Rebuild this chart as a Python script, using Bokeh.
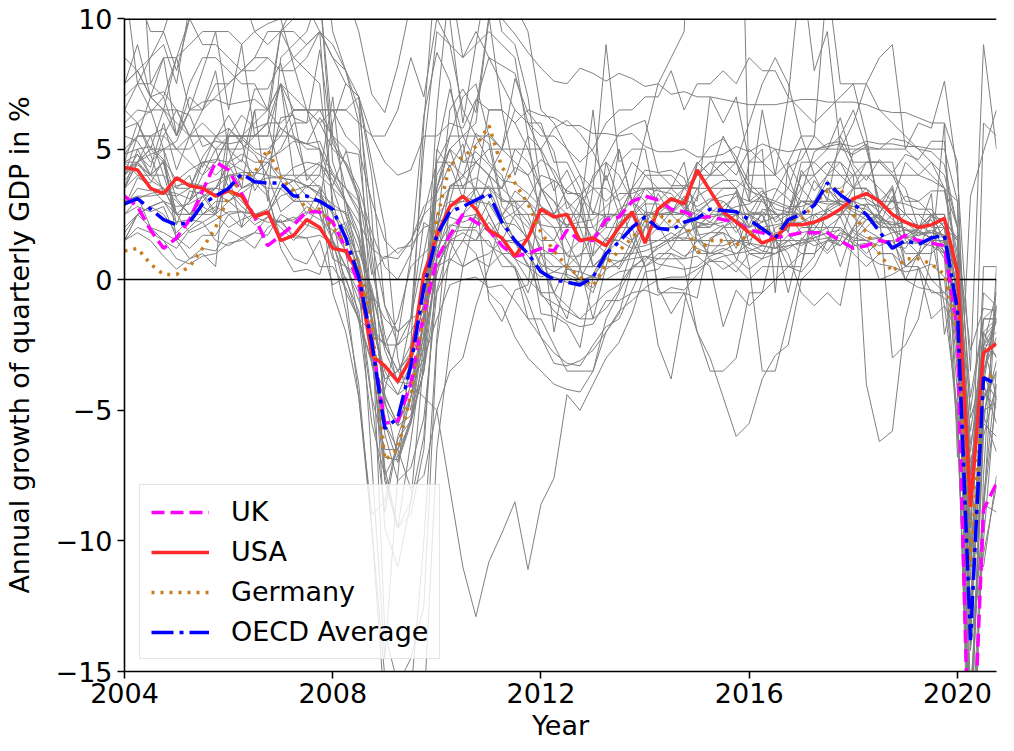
from bokeh.plotting import figure
from bokeh.models import Range1d, FixedTicker, Legend, LegendItem
from bokeh.embed import file_html
from bokeh.resources import INLINE

# ---------------- data: annual growth of quarterly GDP (%), 2004Q1 .. 2020Q4 ----------------
years = list(range(2004, 2021))
quarter_offsets = [0.0, 0.25, 0.5, 0.75]
time = [y + q for y in years for q in quarter_offsets]

uk = [3.2, 2.8, 1.9, 1.2, 1.6, 2.3, 3.4, 4.5, 4.2, 3.3, 2.4, 1.3, 1.7, 2.1, 2.6, 2.6,
      2.2, 1.2, -0.2, -2.3, -5.5, -5.4, -4.0, -1.3, 0.8, 1.7, 2.5, 2.2, 1.9, 1.3, 0.9, 1.0,
      1.2, 1.1, 1.9, 1.5, 1.5, 2.3, 2.4, 3.0, 3.2, 3.05, 2.7, 2.6, 2.4, 2.4, 2.3, 2.2,
      1.9, 1.8, 1.6, 1.7, 1.8, 1.8, 1.8, 1.5, 1.2, 1.3, 1.5, 1.4, 1.7, 1.5, 1.4, 1.3,
      -2.0, -21.0, -8.8, -7.8]
usa = [4.3, 4.2, 3.5, 3.3, 3.9, 3.6, 3.5, 3.2, 3.4, 3.2, 2.4, 2.6, 1.5, 1.7, 2.3, 2.0,
       1.2, 1.1, 0.2, -2.9, -3.3, -3.9, -3.0, 0.2, 1.7, 2.8, 3.2, 2.7, 1.9, 1.6, 0.9, 1.6,
       2.7, 2.4, 2.5, 1.5, 1.6, 1.3, 2.0, 2.6, 1.4, 2.7, 3.1, 2.9, 4.2, 3.4, 2.6, 2.2,
       1.8, 1.4, 1.6, 2.1, 2.1, 2.2, 2.4, 2.7, 3.1, 3.3, 3.0, 2.5, 2.2, 2.0, 2.1, 2.35,
       0.3, -8.7, -2.8, -2.45]
germany = [1.1, 1.2, 0.6, 0.2, 0.2, 0.5, 1.2, 2.0, 3.2, 3.9, 4.1, 5.0, 3.9, 3.4, 2.7, 2.7,
           2.0, 1.4, 0.5, -1.6, -6.9, -6.5, -4.4, -1.4, 2.3, 4.4, 4.7, 5.1, 5.9, 4.3, 3.7, 2.9,
           1.8, 1.1, 0.5, 0.1, -0.25, 0.6, 1.1, 1.6, 2.2, 2.5, 2.2, 2.3, 1.0, 1.5, 1.5, 1.3,
           1.8, 2.0, 1.7, 2.3, 2.3, 2.9, 3.4, 3.5, 2.5, 1.8, 1.0, 0.3, 0.8, 0.8, 0.6, 0.2,
           -2.1, -11.0, -3.8, -3.6]
oecd_average = [2.9, 3.1, 2.7, 2.3, 2.1, 2.2, 2.9, 3.2, 3.5, 4.05, 3.75, 3.7, 3.7, 3.2, 3.2, 3.0,
                2.7, 1.6, 0.1, -2.4, -5.7, -5.3, -3.3, -0.3, 1.7, 2.6, 2.8, 3.05, 3.3, 2.2, 1.5, 1.0,
                0.3, 0.0, -0.1, -0.2, 0.1, 1.0, 1.45, 2.0, 2.4, 1.97, 1.9, 2.2, 2.35, 2.7, 2.65, 2.6,
                2.3, 1.95, 1.6, 2.3, 2.5, 2.85, 3.7, 3.25, 2.9, 2.5, 1.85, 1.2, 1.5, 1.35, 1.6, 1.7,
                -1.15, -13.8, -3.75, -4.0]

australia = [4.5, 4.0, 3.5, 3.0, 2.8, 2.9, 3.2, 3.3, 3.0, 2.6, 2.5, 2.7, 3.8, 4.3, 4.5, 4.4,
             4.0, 3.0, 2.2, 1.2, 0.8, 1.2, 1.3, 2.0, 2.2, 2.4, 2.2, 2.4, 1.8, 2.3, 2.6, 3.1,
             4.0, 3.8, 3.4, 3.2, 2.6, 2.4, 2.5, 2.4, 2.9, 2.9, 2.6, 2.5, 2.2, 2.0, 2.6, 2.8,
             2.9, 3.2, 2.2, 2.5, 1.8, 1.9, 2.7, 2.4, 3.1, 3.1, 2.8, 2.3, 1.9, 1.7, 1.8, 2.2,
             1.6, -6.3, -3.7, -1.0]
austria = [1.5, 2.5, 2.8, 3.0, 2.2, 2.3, 2.2, 2.5, 3.0, 3.3, 3.7, 3.9, 3.9, 3.8, 3.6, 3.3,
           2.9, 2.5, 1.2, -0.5, -4.8, -5.6, -4.0, -2.2, 0.2, 2.0, 2.5, 3.0, 3.6, 3.1, 2.8, 2.2,
           1.2, 0.9, 0.4, 0.3, 0.1, 0.0, 0.3, 0.4, 0.9, 0.6, 0.5, 0.4, 0.5, 0.9, 1.1, 1.4,
           1.7, 2.0, 2.1, 2.2, 2.2, 2.5, 2.7, 3.0, 3.0, 2.8, 2.3, 1.9, 1.6, 1.4, 1.3, 1.0,
           -2.8, -13.5, -4.0, -5.5]
belgium = [2.8, 3.5, 3.4, 3.5, 2.5, 1.8, 2.0, 2.3, 2.6, 2.6, 2.5, 2.6, 3.2, 3.4, 3.6, 3.2,
           2.6, 1.9, 0.8, -1.4, -3.9, -4.4, -3.2, -1.3, 1.4, 2.8, 3.0, 2.9, 3.3, 2.3, 1.5, 0.9,
           0.3, 0.1, -0.1, -0.1, -0.3, 0.4, 0.7, 1.0, 1.1, 1.3, 1.6, 1.6, 1.5, 1.3, 1.3, 1.5,
           1.4, 1.3, 1.2, 1.5, 1.5, 1.6, 1.8, 1.9, 1.6, 1.5, 1.6, 1.8, 1.9, 1.9, 1.6, 1.4,
           -1.9, -13.9, -4.3, -4.9]
canada = [2.5, 3.1, 3.3, 3.4, 3.3, 3.1, 3.4, 3.5, 3.4, 2.8, 2.4, 2.2, 2.2, 2.4, 2.1, 1.9,
          1.4, 1.0, 1.1, -0.3, -2.7, -3.9, -4.0, -1.5, 1.9, 3.6, 3.6, 3.9, 3.5, 2.4, 3.4, 3.0,
          2.1, 2.0, 0.9, 0.9, 1.7, 2.1, 2.7, 3.0, 2.4, 2.7, 3.1, 2.8, 1.9, 0.7, 0.7, 0.3,
          1.0, 0.8, 1.6, 2.0, 2.5, 3.8, 3.1, 2.9, 2.7, 2.5, 2.1, 1.9, 1.6, 1.7, 1.9, 1.7,
          -0.4, -12.7, -5.2, -3.1]
chile = [4.8, 5.5, 7.0, 7.2, 6.5, 6.3, 5.1, 5.3, 5.2, 5.3, 3.4, 4.2, 6.2, 6.3, 3.8, 4.4,
         3.6, 4.9, 4.8, 0.5, -2.1, -4.0, -1.5, 2.2, 1.8, 6.5, 7.3, 6.4, 10.1, 6.5, 4.0, 5.5,
         5.0, 5.8, 6.1, 5.6, 4.9, 3.8, 5.0, 3.0, 2.6, 2.1, 1.2, 2.1, 2.7, 2.4, 2.5, 1.8,
         2.5, 1.4, 1.6, 0.5, 0.3, 0.9, 2.8, 3.1, 4.9, 5.2, 2.8, 3.6, 1.6, 1.9, 3.3, -2.1,
         0.2, -14.2, -9.1, 0.0]
colombia = [4.0, 4.8, 4.3, 6.0, 4.2, 5.5, 4.3, 5.5, 5.8, 5.3, 7.3, 7.3, 8.3, 6.2, 6.0, 8.8,
            5.2, 4.4, 3.3, 0.2, 0.9, 0.8, 1.5, 2.8, 3.3, 4.4, 3.1, 5.2, 5.6, 5.0, 7.7, 6.4,
            5.8, 4.9, 2.7, 3.2, 3.8, 4.7, 5.6, 5.9, 6.1, 4.1, 4.2, 3.9, 2.6, 3.0, 3.2, 3.3,
            2.6, 2.5, 1.2, 1.7, 1.3, 1.6, 1.8, 1.3, 2.0, 2.9, 2.8, 2.7, 3.2, 3.0, 3.4, 3.4,
            0.7, -15.8, -8.4, -3.5]
czechia = [4.2, 4.5, 4.8, 5.0, 5.3, 6.5, 6.8, 6.9, 6.7, 6.8, 6.9, 6.5, 5.8, 5.4, 5.2, 5.3,
           4.1, 3.5, 2.7, -0.8, -4.4, -5.6, -5.2, -3.1, 1.0, 2.5, 3.2, 3.0, 2.9, 2.1, 1.4, 0.6,
           -0.6, -0.9, -1.2, -1.5, -1.5, -1.1, -0.4, 1.2, 2.6, 2.5, 2.6, 2.5, 4.4, 5.1, 5.4, 4.7,
           3.7, 3.2, 1.8, 1.9, 3.3, 4.9, 5.2, 5.3, 4.2, 3.0, 2.6, 3.0, 2.9, 2.7, 2.7, 2.0,
           -1.8, -10.9, -5.0, -4.7]
denmark = [1.8, 2.5, 2.8, 2.5, 1.8, 2.3, 3.2, 3.5, 4.4, 3.5, 3.7, 3.2, 1.6, 0.8, 0.6, 1.5,
           -0.2, 0.1, -1.6, -3.2, -4.6, -6.8, -5.3, -3.5, -0.4, 1.5, 2.4, 2.5, 2.0, 1.3, 0.8, 0.5,
           0.1, 0.3, 0.6, 0.0, -0.5, 0.9, 0.4, 1.2, 1.3, 1.5, 1.8, 1.5, 2.2, 2.1, 2.2, 2.5,
           2.5, 3.3, 3.5, 3.1, 2.5, 1.7, 1.1, 1.8, 1.6, 2.3, 2.4, 2.1, 2.2, 1.8, 2.4, 2.3,
           -0.5, -7.8, -2.8, -1.6]
estonia = [6.0, 6.5, 6.4, 7.0, 8.5, 10.0, 10.5, 11.0, 10.5, 11.0, 9.5, 9.8, 10.0, 8.2, 6.5, 5.0,
           1.0, -1.2, -4.0, -9.5, -15.2, -16.8, -15.9, -10.0, -2.2, 3.0, 4.8, 6.8, 8.5, 8.2, 7.9, 6.0,
           4.9, 3.4, 4.2, 3.0, 0.5, 1.0, 1.8, 1.5, 2.0, 3.3, 2.5, 3.2, 1.7, 1.8, 2.1, 1.2,
           2.5, 2.2, 3.3, 4.3, 4.6, 5.5, 5.0, 6.2, 4.4, 3.8, 4.6, 4.1, 4.8, 4.6, 5.3, 5.3,
           -0.5, -6.6, -2.2, -1.6]
finland = [2.8, 3.9, 3.7, 4.6, 3.1, 2.5, 3.2, 2.5, 4.2, 4.6, 4.0, 4.8, 5.8, 5.4, 5.2, 5.0,
           3.5, 2.0, 0.3, -2.8, -7.7, -9.5, -9.0, -6.5, 0.8, 3.6, 3.9, 5.6, 5.2, 2.8, 2.3, 1.5,
           -0.5, -1.2, -1.6, -1.8, -1.7, -0.8, -0.8, -0.5, -0.4, -0.6, -0.3, -0.4, 0.2, 0.8, 0.4, 0.7,
           2.1, 3.1, 2.9, 2.7, 3.5, 2.9, 3.5, 2.8, 1.8, 1.5, 1.3, 1.5, 1.4, 1.4, 1.5, 1.1,
           -1.1, -5.8, -2.5, -1.6]
france = [2.5, 2.8, 2.6, 2.8, 1.6, 1.2, 1.7, 1.7, 2.5, 2.6, 2.1, 2.4, 2.2, 2.3, 2.6, 2.3,
          1.9, 1.1, 0.4, -1.6, -3.8, -3.5, -2.9, -0.9, 1.2, 2.1, 2.0, 2.0, 3.0, 2.2, 2.1, 1.6,
          0.6, 0.3, 0.2, 0.0, 0.1, 0.8, 0.7, 0.8, 0.9, 0.8, 1.2, 0.9, 1.2, 1.0, 1.2, 1.0,
          1.4, 1.1, 1.0, 1.2, 1.5, 2.2, 2.6, 2.9, 2.4, 1.9, 1.6, 1.3, 1.4, 1.8, 1.6, 0.8,
          -5.5, -18.4, -3.7, -4.6]
greece = [5.5, 5.3, 4.5, 5.0, 1.5, 0.8, 1.0, 0.5, 5.5, 6.3, 5.8, 6.0, 4.0, 3.5, 2.5, 3.5,
          1.5, 0.5, -0.8, -1.8, -2.5, -3.5, -4.0, -4.5, -5.0, -8.0, -11.0, -12.9, -10.8, -9.7, -8.5, -11.1,
          -8.6, -7.6, -4.4, -5.0, -4.0, -3.0, -2.4, -1.3, 0.3, 0.4, 1.0, 0.8, 0.9, 0.5, -1.8, -0.4,
          -1.0, -0.5, 1.6, -0.5, 1.6, 1.3, 1.5, 1.3, 1.9, 1.6, 1.6, 1.3, 1.2, 2.0, 2.3, 1.0,
          -0.7, -14.0, -10.5, -7.9]
hungary = [4.8, 5.0, 5.1, 4.6, 3.8, 4.2, 4.5, 4.6, 4.5, 4.2, 3.9, 3.4, 1.2, 0.3, 0.4, 0.2,
           1.8, 2.2, 0.7, -2.5, -5.9, -7.7, -7.2, -5.3, -0.5, 0.7, 1.5, 1.5, 2.2, 1.5, 1.4, 1.6,
           -1.3, -1.4, -1.7, -2.6, 0.1, 1.0, 2.0, 3.5, 4.2, 4.1, 3.6, 3.6, 3.5, 2.7, 2.5, 3.4,
           1.3, 2.7, 2.6, 1.8, 4.2, 3.4, 4.0, 5.0, 4.8, 5.1, 5.0, 5.4, 5.3, 5.0, 4.9, 4.4,
           2.0, -13.3, -4.6, -3.6]
iceland = [7.5, 9.0, 7.0, 8.5, 5.5, 7.0, 6.5, 8.0, 5.0, 3.5, 6.5, 3.0, 8.5, 9.0, 9.5, 11.0,
           4.5, 3.0, 0.5, -2.5, -5.5, -6.5, -8.0, -7.5, -5.0, -3.5, -3.0, -1.0, 0.5, 2.5, 3.0, 2.5,
           1.0, 0.5, 0.5, 2.5, 6.5, 2.0, 5.0, 3.0, 1.5, 2.0, 2.0, 2.5, 4.5, 4.0, 5.5, 4.5,
           6.0, 7.5, 8.5, 7.5, 5.5, 4.0, 3.0, 5.5, 6.5, 5.0, 3.0, 3.5, 1.5, 1.0, 2.5, 1.5,
           -1.5, -10.0, -11.0, -7.5]
ireland = [3.5, 5.0, 4.0, 5.5, 6.5, 5.5, 6.0, 5.5, 5.0, 4.5, 6.5, 6.5, 7.5, 5.5, 4.0, 3.5,
           -0.5, -2.0, -4.5, -9.0, -8.5, -6.0, -4.5, -1.5, 0.5, 1.5, 1.5, 2.5, 2.0, 1.0, 0.5, -0.5,
           1.0, -0.5, 0.5, 0.5, -1.5, 0.5, 2.5, 3.5, 5.5, 7.5, 8.5, 9.5, 22.0, 25.0, 26.0, 24.0,
           3.0, 6.5, 4.0, 7.0, 12.0, 8.0, 9.5, 5.0, 6.0, 7.5, 8.5, 9.0, 5.0, 6.0, 5.8, 7.6,
           4.0, -3.5, 9.0, 5.0]
israel = [4.0, 5.5, 5.5, 5.8, 5.0, 4.5, 4.0, 5.0, 5.5, 5.5, 5.0, 5.0, 5.5, 6.5, 6.5, 6.0,
          5.0, 4.5, 3.5, 1.8, 0.5, 0.0, 1.0, 2.5, 4.5, 5.5, 5.5, 5.5, 5.5, 5.0, 4.5, 4.0,
          2.8, 2.5, 3.0, 2.5, 4.0, 4.5, 4.0, 3.0, 3.5, 3.0, 3.5, 4.5, 2.0, 2.5, 2.5, 2.0,
          4.5, 4.5, 4.0, 4.5, 3.5, 4.0, 4.5, 4.0, 3.5, 4.0, 3.5, 3.0, 4.5, 4.0, 3.8, 3.5,
          1.0, -7.5, -2.0, -1.5]
italy = [1.5, 1.8, 1.5, 0.9, 0.4, 0.8, 1.2, 1.1, 1.9, 1.6, 1.8, 2.4, 2.2, 1.7, 1.6, 0.5,
         0.5, -0.3, -1.5, -3.1, -6.8, -6.9, -5.4, -3.5, 0.8, 1.8, 1.9, 1.9, 1.3, 1.0, 0.4, -0.8,
         -2.2, -3.2, -3.3, -3.1, -2.7, -2.0, -1.2, -0.8, -0.3, 0.0, 0.1, 0.1, 0.4, 0.7, 0.9, 1.0,
         1.1, 1.3, 1.2, 1.3, 1.4, 1.5, 1.6, 1.7, 1.4, 0.9, 0.6, 0.5, 0.3, 0.4, 0.6, 0.1,
         -5.8, -18.1, -5.2, -6.6]
japan = [3.0, 3.2, 2.0, 1.5, 1.2, 1.9, 2.2, 1.5, 1.3, 1.6, 1.2, 2.0, 2.3, 1.6, 1.6, 1.7,
         1.4, 0.0, -1.2, -4.6, -8.9, -6.1, -5.4, -1.5, 5.0, 4.3, 5.2, 3.1, -0.8, -1.6, -0.4, -0.2,
         3.4, 3.8, 0.1, -0.1, 0.2, 1.2, 2.2, 2.5, 2.5, -0.3, -1.3, -0.5, -0.7, 1.6, 1.8, 0.8,
         0.4, 0.8, 1.0, 1.3, 1.4, 1.7, 2.0, 2.4, 1.3, 1.4, 0.0, 0.2, 0.5, 0.9, 1.7, -1.0,
         -2.0, -10.3, -5.6, -1.1]
korea = [5.8, 6.0, 4.8, 3.3, 3.2, 3.5, 4.7, 5.4, 6.3, 5.4, 4.9, 4.6, 4.9, 5.3, 5.2, 6.2,
         5.5, 4.4, 3.1, -3.3, -4.2, -2.2, 0.9, 6.3, 8.7, 7.6, 4.5, 4.9, 4.4, 3.8, 3.7, 3.3,
         2.8, 2.4, 2.1, 2.2, 2.3, 2.8, 3.3, 3.3, 3.5, 3.4, 3.3, 2.7, 2.5, 2.2, 2.8, 3.2,
         3.0, 3.4, 2.7, 2.6, 3.0, 2.8, 3.8, 2.9, 2.8, 2.9, 2.1, 3.2, 1.7, 2.0, 2.1, 2.3,
         1.5, -2.7, -1.1, -1.2]
latvia = [8.5, 8.0, 8.5, 9.0, 7.5, 10.5, 11.0, 11.5, 13.0, 11.5, 11.5, 12.0, 11.0, 11.0, 10.5, 9.5,
          2.5, -0.5, -4.5, -9.5, -16.5, -18.5, -18.0, -16.5, -6.5, -2.5, 0.5, 2.5, 4.0, 5.0, 6.5, 6.0,
          6.0, 4.5, 4.5, 3.5, 2.0, 1.5, 2.5, 2.5, 2.0, 2.5, 2.0, 2.0, 2.5, 3.0, 3.5, 3.5,
          2.0, 2.5, 1.5, 2.5, 4.0, 4.0, 4.5, 4.5, 3.5, 4.5, 4.5, 4.5, 2.5, 2.0, 2.5, 2.5,
          -0.5, -8.5, -2.5, -0.5]
lithuania = [6.5, 7.5, 7.5, 7.0, 5.5, 7.5, 8.5, 8.5, 8.0, 7.5, 7.5, 6.5, 9.5, 10.5, 11.5, 11.0,
             5.5, 3.5, 2.5, -1.5, -13.5, -15.5, -14.5, -12.5, -2.5, 1.0, 2.5, 3.5, 6.5, 6.5, 6.0, 5.0,
             3.5, 2.5, 3.5, 4.0, 3.5, 3.5, 3.0, 3.5, 3.0, 3.5, 3.5, 3.0, 1.5, 1.5, 2.0, 2.5,
             2.0, 2.5, 2.5, 2.5, 4.0, 4.5, 4.0, 4.0, 4.0, 4.0, 4.0, 4.0, 4.0, 4.0, 4.5, 4.0,
             2.0, -4.5, -1.5, -1.0]
luxembourg = [3.5, 4.5, 5.5, 4.0, 2.5, 3.0, 4.5, 4.0, 4.5, 5.5, 5.5, 6.0, 9.5, 8.5, 8.0, 7.5,
              3.0, 1.0, -1.5, -5.5, -7.5, -6.5, -4.5, -1.5, 4.0, 5.0, 4.5, 4.5, 4.0, 2.5, 1.5, 0.5,
              0.5, -0.5, -1.5, 0.5, 3.5, 3.0, 3.5, 4.5, 4.0, 3.5, 3.0, 3.5, 4.5, 4.0, 4.5, 4.0,
              5.0, 4.5, 5.0, 4.0, 2.5, 1.5, 1.0, 1.5, 3.0, 3.5, 3.0, 2.5, 2.5, 2.0, 2.5, 2.0,
              -1.5, -8.5, -0.5, -1.0]
mexico = [3.8, 4.4, 4.0, 4.5, 2.1, 3.4, 3.3, 2.6, 5.8, 5.2, 4.8, 4.0, 2.6, 3.0, 3.6, 3.6,
          2.7, 2.6, 1.6, -1.5, -7.2, -9.5, -6.2, -2.5, 4.9, 7.3, 5.5, 4.5, 4.0, 3.5, 4.3, 4.0,
          4.6, 4.2, 3.3, 3.3, 0.9, 1.6, 1.5, 1.2, 2.3, 2.0, 2.6, 3.1, 2.8, 3.1, 3.0, 2.6,
          2.5, 2.6, 2.3, 2.8, 2.4, 2.1, 1.6, 1.3, 1.9, 2.3, 2.5, 1.7, 0.0, -0.3, -0.4, -0.7,
          -1.4, -18.7, -8.6, -4.5]
netherlands = [1.5, 2.5, 2.0, 1.8, 1.5, 2.0, 2.5, 3.0, 3.0, 3.5, 3.8, 3.5, 3.5, 3.8, 4.2, 4.5,
               3.8, 3.0, 1.8, -0.8, -4.5, -5.5, -4.5, -2.5, 0.5, 1.5, 1.8, 1.5, 2.5, 1.5, 0.8, 0.0,
               -0.5, -0.5, -1.0, -1.5, -1.0, -0.5, -0.2, 0.5, 0.8, 1.2, 1.5, 1.8, 2.0, 2.2, 2.0, 2.3,
               2.0, 2.2, 2.4, 2.6, 2.5, 3.0, 3.0, 3.0, 2.8, 2.7, 2.3, 2.2, 1.9, 1.8, 1.8, 1.6,
               0.2, -9.2, -2.6, -2.9]
new_zealand = [4.5, 4.8, 4.0, 3.5, 3.0, 2.5, 2.8, 2.5, 2.0, 2.3, 2.5, 2.5, 3.5, 3.8, 3.2, 3.0,
               1.5, -0.5, -1.5, -2.0, -2.5, -1.5, 0.5, 1.0, 1.5, 1.5, 0.5, 0.8, 1.0, 1.5, 2.5, 2.5,
               2.5, 2.0, 2.0, 2.5, 1.5, 2.5, 2.5, 3.5, 3.5, 3.5, 3.5, 3.5, 3.5, 3.5, 3.5, 3.5,
               4.0, 4.0, 4.0, 3.5, 3.0, 3.0, 3.5, 3.0, 3.5, 3.5, 3.0, 3.0, 2.5, 2.5, 2.0, 2.0,
               0.5, -11.5, 0.5, 0.5]
norway = [3.5, 4.0, 4.0, 4.5, 2.5, 2.5, 2.5, 2.8, 2.5, 2.0, 2.5, 2.5, 3.5, 3.0, 3.0, 3.0,
          1.5, 0.5, 0.0, -0.5, -1.5, -2.0, -1.5, -1.2, 0.5, 0.8, 0.5, 0.8, 0.5, 1.0, 1.0, 1.5,
          3.5, 3.0, 2.5, 2.5, 1.5, 1.0, 1.0, 1.0, 2.0, 2.0, 2.0, 2.0, 1.5, 1.5, 2.0, 2.0,
          1.0, 1.0, 1.0, 1.5, 2.0, 2.0, 2.0, 2.0, 1.5, 1.5, 1.0, 1.0, 0.5, 1.0, 1.5, 1.5,
          0.5, -5.0, -1.5, -1.5]
poland = [6.5, 6.0, 5.0, 4.5, 2.5, 3.0, 4.0, 4.5, 5.5, 5.5, 6.0, 6.5, 7.5, 6.5, 6.5, 6.5,
          6.5, 5.5, 5.0, 3.0, 1.5, 1.0, 1.5, 2.5, 3.0, 3.5, 4.0, 4.5, 5.0, 5.0, 5.0, 4.5,
          3.5, 2.5, 1.5, 0.5, 0.5, 1.0, 2.0, 2.5, 3.5, 3.5, 3.5, 3.5, 4.0, 4.0, 4.0, 4.5,
          3.0, 3.0, 2.5, 2.5, 4.5, 4.5, 5.0, 5.0, 5.0, 5.0, 5.0, 5.0, 5.0, 4.5, 4.0, 3.5,
          2.0, -8.5, -2.0, -3.0]
portugal = [1.5, 2.0, 1.8, 1.5, 0.8, 0.6, 0.9, 1.0, 1.4, 1.5, 1.8, 1.7, 2.5, 2.2, 2.8, 2.5,
            0.8, 0.5, 0.2, -1.5, -3.8, -3.5, -2.8, -1.0, 1.5, 1.5, 1.5, 1.0, -0.5, -1.0, -2.2, -3.0,
            -3.5, -4.0, -4.2, -4.3, -3.5, -2.0, -1.3, 0.5, 0.5, 0.8, 0.8, 0.8, 1.5, 1.8, 1.8, 1.5,
            1.2, 1.0, 2.0, 2.2, 3.0, 3.0, 2.5, 2.5, 2.5, 2.5, 2.5, 2.0, 2.5, 2.5, 2.5, 2.5,
            -2.5, -16.5, -5.5, -6.0]
slovakia = [5.0, 5.5, 5.5, 5.5, 5.0, 5.5, 6.5, 7.0, 7.5, 8.0, 8.5, 9.5, 9.5, 10.0, 10.5, 13.5,
            9.5, 8.0, 6.5, 2.5, -5.5, -7.0, -5.5, -3.5, 4.5, 4.5, 4.0, 3.5, 3.5, 3.0, 3.0, 3.0,
            2.0, 1.5, 1.0, 0.5, 0.5, 0.5, 0.5, 1.5, 2.5, 2.5, 2.5, 2.5, 3.5, 4.0, 4.5, 4.5,
            3.5, 3.5, 2.5, 2.5, 3.0, 3.0, 3.5, 3.5, 4.0, 4.5, 4.5, 4.0, 3.5, 2.0, 2.5, 1.5,
            -3.5, -12.5, -2.5, -2.5]
slovenia = [3.5, 4.5, 4.0, 4.0, 3.5, 3.5, 4.5, 4.5, 5.5, 5.5, 5.5, 6.0, 7.5, 7.0, 6.5, 6.5,
            5.5, 5.0, 3.0, -1.5, -7.5, -9.5, -8.5, -6.0, 0.5, 1.5, 1.5, 1.5, 1.5, 0.5, 0.5, -1.5,
            -1.5, -2.5, -3.5, -3.5, -3.5, -1.5, -0.5, 0.5, 2.0, 2.5, 3.0, 3.0, 2.0, 2.0, 2.5, 2.5,
            2.5, 2.5, 3.0, 3.5, 5.0, 5.0, 5.0, 5.5, 4.5, 4.5, 4.5, 4.0, 3.0, 3.0, 2.5, 2.5,
            -2.5, -13.0, -2.5, -4.5]
spain = [3.0, 3.2, 3.2, 3.3, 3.6, 3.7, 3.6, 3.8, 4.0, 4.1, 4.1, 4.0, 3.9, 3.8, 3.6, 3.3,
         2.5, 1.7, 0.3, -1.5, -3.5, -4.4, -4.0, -3.0, -1.5, -0.2, 0.0, 0.1, -0.3, -0.2, -0.8, -1.5,
         -2.2, -2.8, -3.2, -3.3, -2.5, -1.8, -1.5, -0.4, 0.7, 1.3, 1.6, 2.0, 3.2, 3.5, 3.8, 3.8,
         3.4, 3.2, 3.0, 2.8, 2.8, 3.0, 2.9, 2.9, 2.6, 2.3, 2.2, 2.1, 2.2, 2.1, 1.8, 1.7,
         -4.3, -21.6, -8.6, -8.9]
sweden = [4.0, 4.5, 3.8, 3.5, 2.5, 2.5, 3.0, 3.5, 4.5, 4.8, 4.5, 4.5, 3.8, 3.0, 3.0, 2.5,
          1.5, 0.5, -0.5, -4.5, -6.5, -6.5, -5.5, -2.0, 3.5, 5.5, 7.0, 7.5, 5.5, 3.0, 3.0, 1.5,
          0.5, 0.5, 0.5, 0.0, 1.0, 1.5, 1.5, 2.5, 2.5, 2.5, 2.5, 3.0, 4.0, 4.5, 4.5, 4.5,
          3.5, 3.0, 2.5, 2.5, 2.5, 2.5, 2.5, 2.5, 3.0, 2.5, 2.0, 2.0, 2.0, 1.5, 1.5, 1.0,
          0.5, -7.5, -2.5, -2.0]
switzerland = [2.0, 2.5, 2.8, 3.0, 2.5, 3.0, 3.5, 3.5, 4.0, 4.0, 4.0, 4.5, 4.0, 4.0, 4.0, 4.0,
               3.5, 3.0, 1.5, -0.5, -2.5, -3.5, -2.5, -0.5, 2.0, 3.5, 3.5, 3.5, 2.5, 1.5, 1.5, 1.0,
               1.0, 1.0, 1.0, 1.5, 1.5, 2.0, 2.0, 2.0, 2.5, 2.5, 2.5, 2.0, 1.0, 1.0, 1.5, 1.5,
               1.5, 2.0, 1.5, 1.5, 1.0, 1.0, 1.5, 2.5, 3.5, 3.5, 2.5, 2.0, 1.0, 1.0, 1.5, 1.5,
               -1.5, -9.5, -1.5, -1.5]
turkey = [11.5, 15.0, 7.5, 8.5, 8.5, 6.5, 8.0, 9.5, 6.5, 9.0, 5.5, 5.5, 7.5, 4.0, 3.5, 4.0,
          7.0, 2.5, 0.5, -7.0, -14.5, -7.5, -2.5, 6.0, 12.5, 10.0, 6.0, 9.0, 12.0, 9.5, 9.0, 7.0,
          3.5, 3.0, 2.0, 3.0, 3.5, 9.0, 4.5, 5.0, 5.0, 2.5, 2.5, 3.5, 3.0, 7.0, 6.0, 7.0,
          4.5, 5.0, -0.5, 4.5, 5.5, 5.5, 11.5, 7.5, 7.5, 5.5, 2.5, -3.0, -2.5, -1.5, 1.0, 6.0,
          4.5, -10.5, 6.0, 5.5]
china = [10.4, 10.9, 9.5, 9.5, 11.1, 11.2, 11.4, 11.3, 12.4, 13.7, 12.2, 12.9, 13.9, 15.1, 14.3, 13.9,
         11.5, 11.0, 9.5, 7.1, 6.4, 8.2, 10.6, 11.9, 12.2, 11.4, 10.8, 10.0, 10.2, 10.0, 9.4, 8.7,
         8.1, 7.6, 7.5, 8.1, 7.9, 7.6, 7.9, 7.7, 7.4, 7.5, 7.1, 7.2, 7.0, 7.0, 6.9, 6.8,
         6.7, 6.7, 6.7, 6.8, 6.9, 6.9, 6.8, 6.8, 6.8, 6.7, 6.5, 6.4, 6.4, 6.2, 6.0, 6.0,
         -6.8, 3.2, 4.9, 6.5]
india = [7.5, 8.0, 7.0, 6.5, 8.5, 9.0, 9.5, 9.5, 9.5, 9.0, 9.5, 9.0, 9.5, 9.5, 9.0, 9.5,
         8.5, 7.5, 7.0, 5.5, 5.5, 6.5, 8.5, 7.0, 10.0, 9.0, 8.5, 9.5, 8.5, 7.5, 6.5, 6.0,
         5.5, 5.5, 5.0, 4.5, 5.0, 6.0, 6.5, 6.5, 7.0, 7.0, 8.0, 6.5, 7.5, 7.5, 8.0, 7.5,
         8.5, 8.0, 8.0, 7.0, 6.5, 6.0, 6.5, 7.0, 7.5, 7.5, 6.5, 6.0, 5.5, 5.0, 4.5, 3.5,
         3.0, -24.0, -7.5, 0.5]
indonesia = [4.5, 4.5, 5.0, 6.5, 6.5, 5.5, 5.5, 5.0, 5.0, 5.0, 5.5, 6.0, 6.0, 6.5, 6.5, 6.0,
             6.5, 6.5, 6.0, 5.5, 4.5, 4.0, 4.2, 5.5, 5.5, 6.0, 5.8, 6.9, 6.5, 6.5, 6.0, 6.5,
             6.3, 6.2, 5.9, 5.9, 5.6, 5.6, 5.5, 5.6, 5.1, 4.9, 4.9, 5.0, 4.7, 4.7, 4.8, 5.1,
             4.9, 5.2, 5.0, 4.9, 5.0, 5.0, 5.1, 5.2, 5.1, 5.3, 5.2, 5.2, 5.1, 5.1, 5.0, 5.0,
             3.0, -5.3, -3.5, -2.2]
brazil = [4.5, 6.0, 6.5, 5.0, 3.5, 4.0, 2.5, 2.5, 4.0, 2.0, 4.0, 4.5, 5.0, 6.0, 6.0, 6.5,
          6.5, 6.5, 7.0, 1.0, -2.5, -2.5, -1.5, 5.0, 9.5, 9.0, 6.5, 5.5, 4.5, 4.0, 2.5, 2.0,
          1.5, 1.5, 2.5, 2.5, 2.5, 4.0, 2.5, 2.5, 3.0, -0.5, -0.5, -0.5, -2.0, -3.0, -4.5, -6.0,
          -5.5, -3.8, -2.9, -2.5, 0.0, 0.5, 1.5, 2.0, 1.5, 1.0, 1.5, 1.5, 0.5, 1.0, 1.0, 1.5,
          -0.5, -11.0, -4.0, -1.0]
russia = [7.0, 7.5, 6.5, 6.5, 5.5, 6.5, 6.5, 7.5, 7.5, 8.0, 8.0, 8.5, 8.0, 8.0, 8.5, 9.5,
          9.0, 8.0, 6.0, -1.5, -9.5, -11.0, -8.5, -3.0, 3.5, 5.0, 3.5, 4.5, 4.0, 3.5, 5.0, 5.0,
          5.0, 4.0, 3.0, 2.0, 0.5, 1.0, 1.5, 2.0, 0.5, 1.0, 1.0, 0.5, -2.0, -3.5, -3.5, -3.0,
          -0.5, -0.5, 0.0, 0.5, 0.5, 2.5, 2.0, 0.5, 2.0, 2.5, 2.0, 2.5, 0.5, 1.0, 1.5, 2.0,
          1.5, -7.5, -3.5, -1.5]
south_africa = [4.0, 4.5, 5.0, 5.0, 5.0, 5.0, 5.5, 5.5, 5.5, 5.5, 5.5, 5.5, 5.5, 5.5, 5.0, 5.0,
                4.0, 3.5, 3.0, 1.5, -1.0, -2.5, -2.0, -1.0, 2.5, 3.0, 3.0, 3.5, 3.5, 3.5, 3.0, 3.0,
                2.5, 2.5, 2.0, 2.0, 2.0, 2.5, 2.5, 2.5, 1.5, 1.5, 1.5, 1.5, 1.5, 1.0, 1.0, 0.5,
                0.0, 0.5, 0.5, 0.5, 1.0, 1.0, 1.5, 1.5, 1.0, 0.5, 1.0, 1.0, 0.0, 1.0, 0.0, -0.5,
                0.0, -17.5, -6.0, -4.0]
argentina = [11.5, 7.5, 8.5, 9.5, 8.0, 10.0, 9.0, 9.0, 8.5, 8.0, 8.5, 8.5, 8.0, 8.5, 9.0, 9.5,
             8.5, 8.0, 7.0, 4.5, 2.0, -3.0, -5.0, -1.5, 6.5, 11.5, 8.5, 9.0, 9.5, 9.0, 8.5, 5.5,
             2.0, -2.0, 0.5, 1.0, 1.0, 4.5, 3.0, 1.5, 0.5, -2.5, -3.8, -1.0, 2.0, 2.5, 3.0, 2.5,
             0.5, -3.5, -3.5, -1.5, 0.5, 3.0, 4.0, 4.5, 4.0, -4.0, -6.2, -5.8, -1.5, 0.5, -1.5, -1.0,
             -5.0, -19.0, -10.0, -4.0]
saudi_arabia = [7.5, 8.0, 7.0, 6.5, 6.0, 5.5, 5.5, 5.0, 3.5, 3.0, 2.5, 2.5, 2.0, 1.5, 2.0, 3.0,
                6.0, 7.5, 7.0, 4.0, -1.0, -2.0, -1.5, 1.0, 3.5, 5.0, 5.5, 6.0, 10.0, 11.0, 10.5, 9.5,
                6.5, 6.0, 5.0, 4.0, 2.5, 2.5, 2.5, 3.0, 4.0, 4.0, 4.0, 3.5, 4.0, 4.5, 4.0, 3.5,
                2.5, 2.0, 1.5, 1.0, -0.5, -1.0, -0.5, -1.0, 1.5, 2.0, 2.5, 3.5, 0.5, 0.5, -0.5, -0.5,
                -1.0, -7.0, -4.5, -3.5]

other_countries = [australia, austria, belgium, canada, chile, colombia, czechia, denmark,
                   estonia, finland, france, greece, hungary, iceland, ireland, israel, italy,
                   japan, korea, latvia, lithuania, luxembourg, mexico, netherlands, new_zealand,
                   norway, poland, portugal, slovakia, slovenia, spain, sweden, switzerland,
                   turkey, china, india, indonesia, brazil, russia, south_africa, argentina,
                   saudi_arabia]

x_ticks = [2004, 2008, 2012, 2016, 2020]
y_ticks = [-15, -10, -5, 0, 5, 10]
y_tick_labels = {-15: "\u221215", -10: "\u221210", -5: "\u22125", 0: "0", 5: "5", 10: "10"}
reference_levels = [0]
top_level = [10]

FONT = "DejaVu Sans"
FS = "27px"

p = figure(width=998, height=743,
           x_range=Range1d(2004, 2020.75), y_range=Range1d(-15, 10),
           output_backend="svg", toolbar_location=None,
           min_border_left=114, min_border_right=2, min_border_top=18, min_border_bottom=71,
           background_fill_color="white", border_fill_color="white")
p.outline_line_color = None
p.grid.visible = False

for series in other_countries:
    p.line(time, series, line_color="gray", line_width=1.0)

p.hspan(y=reference_levels, line_color="black", line_width=1.6)
p.hspan(y=top_level, line_color="black", line_width=3.0)

r_uk = p.line(time, uk, line_color="#ff00ff", line_width=3.5, line_dash="13 6")
r_usa = p.line(time, usa, line_color="#ff2a2a", line_width=3.5)
r_de = p.line(time, germany, line_color="#c97b1f", line_width=3.5, line_dash="3 6")
r_oecd = p.line(time, oecd_average, line_color="#0000ff", line_width=3.5, line_dash="22 6 4 6")

legend = Legend(items=[LegendItem(label="UK", renderers=[r_uk]),
                       LegendItem(label="USA", renderers=[r_usa]),
                       LegendItem(label="Germany", renderers=[r_de]),
                       LegendItem(label="OECD Average", renderers=[r_oecd])],
                location=(15, 12), orientation="vertical",
                label_text_font=FONT, label_text_font_size=FS, label_text_color="black",
                glyph_width=58, glyph_height=20, label_standoff=22,
                padding=11, spacing=9, margin=0,
                border_line_color="#cccccc", border_line_width=1.5,
                background_fill_color="white", background_fill_alpha=0.8)
p.add_layout(legend, "center")

p.xaxis.ticker = FixedTicker(ticks=x_ticks)
p.yaxis.ticker = FixedTicker(ticks=y_ticks)
p.yaxis.major_label_overrides = y_tick_labels
p.xaxis.axis_label = "Year"
p.yaxis.axis_label = "Annual growth of quarterly GDP in %"

for ax in (p.xaxis[0], p.yaxis[0]):
    ax.axis_line_width = 1.6
    ax.axis_line_color = "black"
    ax.major_tick_line_width = 1.6
    ax.major_tick_line_color = "black"
    ax.major_tick_out = 7
    ax.major_tick_in = 0
    ax.minor_tick_out = 0
    ax.minor_tick_in = 0
    ax.major_label_text_font = FONT
    ax.major_label_text_font_size = FS
    ax.major_label_text_color = "black"
    ax.axis_label_text_font = FONT
    ax.axis_label_text_font_size = FS
    ax.axis_label_text_font_style = "normal"
    ax.axis_label_text_color = "black"

p.xaxis.major_label_standoff = 4
p.xaxis.axis_label_standoff = 4
p.yaxis.major_label_standoff = 5
p.yaxis.axis_label_standoff = 18

open("out.html", "w").write(file_html(p, INLINE))
